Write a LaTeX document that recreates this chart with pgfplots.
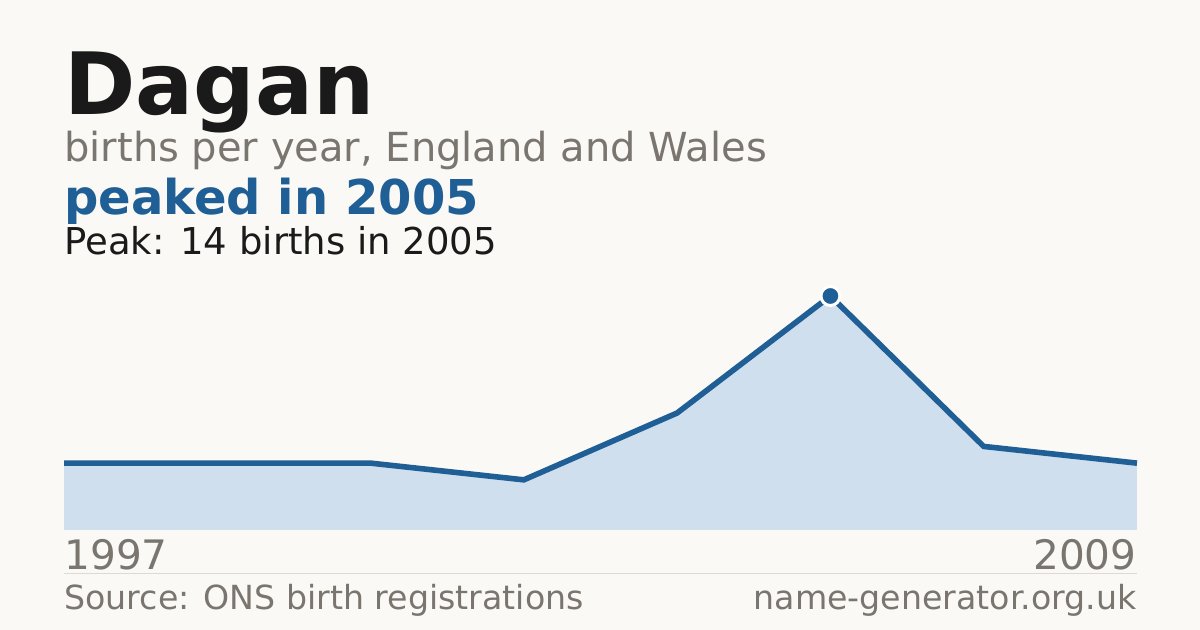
\documentclass[border=0pt]{standalone}
\usepackage{pgfplots}
\pgfplotsset{compat=1.18}
\usepackage{fontspec}
\setmainfont{DejaVu Sans}
\definecolor{bg}{HTML}{FAF9F5}
\definecolor{ink}{HTML}{1A1A1A}
\definecolor{blu}{HTML}{1F5F96}
\definecolor{gry}{HTML}{7A756E}
\definecolor{areafill}{HTML}{CFDFEE}
\definecolor{rule}{HTML}{DDDAD3}

\begin{document}
\begin{tikzpicture}
	% canvas: 1200x630 px at 0.5pt per px
	\fill[bg] (0,0) rectangle (600pt,315pt);

	\node[anchor=base west, inner sep=0, text=ink, font=\fontsize{43}{43}\selectfont\bfseries] at (32pt,257.5pt) {Dagan};
	\node[anchor=base west, inner sep=0, text=gry, font=\fontsize{20}{20}\selectfont] at (32pt,234pt) {births per year, England and Wales};
	\node[anchor=base west, inner sep=0, text=blu, font=\fontsize{24}{24}\selectfont\bfseries] at (32pt,207.5pt) {peaked in 2005};
	\node[anchor=base west, inner sep=0, text=ink, font=\fontsize{18.5}{18.5}\selectfont] at (32pt,187.5pt) {Peak: 14 births in 2005};

	\begin{axis}[
		at={(32pt,50pt)},
		anchor=south west,
		scale only axis,
		width=536.5pt,
		height=117pt,
		xmin=0, xmax=7,
		ymin=0, ymax=14,
		axis lines=none,
		ticks=none,
		clip=false,
	]
		%% births by year, evenly spaced (1997 ... 2009)
		\addplot[fill=areafill, draw=none] coordinates {
			(0,4) (1,4) (2,4) (3,3) (4,7) (5,14) (6,5) (7,4)
		} \closedcycle;
		\addplot[blu, line width=2.8pt, line join=miter] coordinates {
			(0,4) (1,4) (2,4) (3,3) (4,7) (5,14) (6,5) (7,4)
		};
		%% peak
		\addplot[only marks, mark=*, mark size=4.75pt,
			mark options={fill=blu, draw=white, line width=1.5pt}] coordinates {
			(5,14)
		};
	\end{axis}

	\node[anchor=base west, inner sep=0, text=gry, font=\fontsize{20.3}{20.3}\selectfont] at (32pt,30pt) {1997};
	\node[anchor=base east, inner sep=0, text=gry, font=\fontsize{20.3}{20.3}\selectfont] at (568.5pt,30pt) {2009};
	\draw[rule, line width=0.5pt] (32pt,28pt) -- (568.5pt,28pt);
	\node[anchor=base west, inner sep=0, text=gry, font=\fontsize{16.6}{16.6}\selectfont] at (32pt,10pt) {Source: ONS birth registrations};
	\node[anchor=base east, inner sep=0, text=gry, font=\fontsize{16.6}{16.6}\selectfont] at (568.5pt,10pt) {name-generator.org.uk};
\end{tikzpicture}
\end{document}
